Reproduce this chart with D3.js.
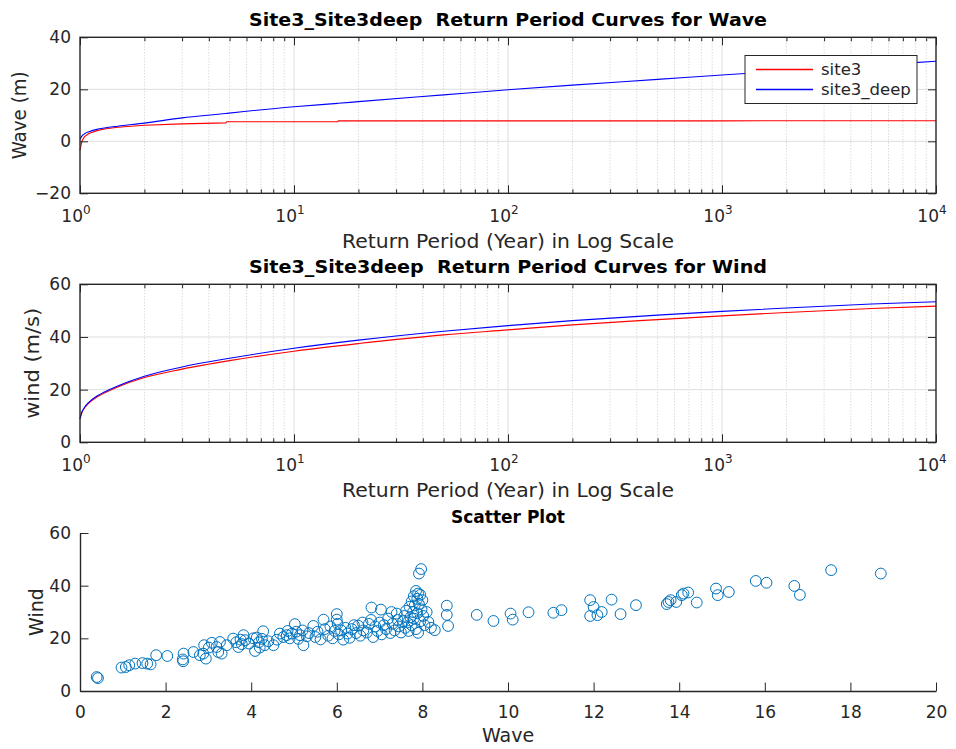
<!DOCTYPE html>
<html>
<head>
<meta charset="utf-8">
<script src="https://cdn.jsdelivr.net/npm/d3@7"></script>
<style>
  body { margin: 0; background: #fff; }
  svg { font-family: "DejaVu Sans", sans-serif; }
  .pre { white-space: pre; }
</style>
</head>
<body>
<svg id="chart" width="956" height="749"></svg>
<script>
// ---- data ----
const decadeTicks = [1, 10, 100, 1000, 10000];
const waveTicks = [-20, 0, 20, 40];
const windTicks = [0, 20, 40, 60];
const scatterXTicks = [0, 2, 4, 6, 8, 10, 12, 14, 16, 18, 20];
const scatterYTicks = [0, 20, 40, 60];
const seriesNames = ["site3", "site3_deep"];
const seriesColors = ["#ff0000", "#0000ff"];

// return periods (years) for the wave curves
const wavePeriods = [1, 1.02, 1.05, 1.1, 1.2, 1.3, 1.5, 2, 3, 4.8, 4.85, 10, 16, 16.1, 20, 50, 100, 200, 500, 1000, 2000, 5000, 10000];
const waveSite3 = [-3.5, 0.0, 1.8, 3.0, 4.1, 4.7, 5.4, 6.2, 6.7, 7.1, 7.5, 7.5, 7.5, 7.85, 7.85, 7.85, 7.85, 7.85, 7.85, 7.85, 7.9, 7.9, 7.9];
const waveSite3Deep = [0.8, 2.0, 2.9, 3.7, 4.6, 5.1, 5.8, 7.0, 9.0, 10.7, 10.74, 13.3, 14.6, 14.617, 15.25, 17.85, 19.8, 21.6, 23.8, 25.5, 27.1, 29.2, 30.8];

// return periods (years) for the wind curves
const windPeriods = [1, 1.02, 1.05, 1.1, 1.2, 1.3, 1.5, 2, 3, 5, 10, 20, 50, 100, 200, 500, 1000, 2000, 5000, 10000];
const windSite3 = [8.8, 11.2, 13.0, 14.9, 17.2, 18.7, 21.0, 24.6, 27.8, 31.0, 34.6, 37.5, 40.8, 42.7, 44.6, 46.6, 48.0, 49.3, 50.8, 51.7];
const windSite3Deep = [9.0, 11.5, 13.3, 15.2, 17.6, 19.1, 21.4, 25.1, 28.6, 31.9, 35.7, 38.8, 42.2, 44.3, 46.2, 48.3, 49.7, 51.0, 52.5, 53.4];

// paired wave / wind observations
const scatterWave = [
  0.39, 0.42, 0.97, 1.07, 1.15, 1.29, 1.46, 1.57, 1.65, 1.78, 2.04, 2.41, 2.40, 2.42, 2.65, 2.80, 2.90, 2.94, 2.88, 3.01,
  3.08, 3.19, 3.27, 3.31, 3.23, 3.43, 3.58, 3.70, 3.65, 3.75, 3.82, 3.86, 3.78, 3.95, 4.05, 4.09, 4.13, 4.18, 4.20, 4.28,
  4.32, 4.25, 4.40, 4.52, 4.60, 4.67, 4.75, 4.83, 4.85, 4.90, 4.95, 5.02, 5.05, 5.10, 5.14, 5.22, 5.20, 5.30, 5.35, 5.45,
  5.50, 5.55, 5.62, 5.69, 5.72, 5.80, 5.85, 5.90, 5.95, 6.00, 6.00, 6.02, 6.05, 6.10, 6.15, 6.20, 6.25, 6.30, 6.35, 6.40,
  6.45, 6.50, 6.55, 6.60, 6.62, 6.70, 6.75, 6.81, 6.80, 6.85, 6.90, 6.95, 7.03, 7.00, 7.05, 7.10, 7.15, 7.20, 7.25, 7.28,
  7.30, 7.35, 7.40, 7.42, 7.45, 7.50, 7.55, 7.58, 7.60, 7.62, 7.65, 7.68, 7.70, 7.72, 7.75, 7.75, 7.78, 7.80, 7.80, 7.82,
  7.85, 7.85, 7.88, 7.88, 7.90, 7.90, 7.92, 7.92, 7.95, 7.95, 7.97, 7.98, 8.00, 8.02, 8.05, 8.10, 8.14, 8.20, 8.29, 8.57,
  8.57, 8.60, 9.27, 9.66, 10.06, 10.11, 10.48, 11.06, 11.25, 11.92, 11.92, 12.00, 12.09, 12.19, 12.42, 12.63, 12.99, 13.71, 13.75, 13.80,
  13.93, 14.06, 14.21, 14.41, 14.10, 14.86, 14.90, 15.16, 15.79, 16.04, 16.69, 16.82, 17.55, 18.71
];
const scatterWind = [
  5.3, 4.9, 8.9, 9.1, 9.8, 10.4, 10.6, 10.4, 10.1, 13.6, 13.3, 11.3, 12.0, 14.2, 14.8, 13.6, 17.4, 12.3, 14.2, 16.5,
  18.3, 16.7, 18.6, 14.2, 14.8, 17.4, 19.9, 16.7, 18.5, 19.5, 21.2, 19.3, 17.8, 18.0, 20.0, 15.2, 20.3, 18.5, 16.5, 22.7,
  17.4, 19.8, 18.9, 17.4, 19.5, 21.8, 20.5, 21.2, 22.8, 20.0, 21.8, 25.4, 22.5, 19.8, 21.2, 17.4, 23.0, 20.8, 22.0, 24.7,
  20.5, 22.5, 19.6, 27.1, 23.5, 21.0, 24.5, 20.0, 22.8, 29.2, 27.1, 25.5, 21.5, 23.0, 19.5, 24.0, 21.8, 20.2, 23.5, 25.0,
  22.0, 24.8, 21.0, 26.0, 23.0, 22.2, 25.5, 31.7, 27.0, 20.5, 24.5, 22.8, 30.9, 26.0, 21.5, 25.0, 23.5, 27.5, 22.0, 30.0,
  25.5, 23.0, 29.4, 27.0, 24.5, 22.2, 26.5, 28.5, 24.0, 30.5, 26.0, 22.8, 32.0, 28.0, 34.0, 25.0, 30.0, 36.0, 27.5, 32.5,
  38.0, 23.5, 35.0, 29.5, 37.0, 22.1, 44.6, 33.0, 36.5, 26.5, 46.3, 31.0, 34.5, 28.5, 25.0, 30.0, 26.2, 24.0, 23.1, 32.4,
  28.9, 24.7, 28.9, 26.6, 29.4, 27.1, 29.9, 29.7, 30.7, 34.5, 28.5, 31.9, 28.8, 30.0, 34.7, 29.2, 32.6, 33.0, 33.8, 34.5,
  33.8, 36.4, 37.4, 33.6, 37.0, 38.9, 36.4, 37.6, 41.8, 41.1, 39.9, 36.5, 45.9, 44.6
];

// ---- layout ----
const svg = d3.select("#chart");
const left = 80, right = 936;
const axisColor = "#262626";
const fs = 17;

const panels = [
  { top: 37.3, bottom: 193.3 },
  { top: 284.3, bottom: 442.3 },
  { top: 533, bottom: 691 }
];

function superscriptLabel(g, x, y, exp) {
  const t = g.append("text")
    .attr("x", x - 4).attr("y", y)
    .attr("text-anchor", "middle")
    .attr("fill", axisColor)
    .attr("font-size", fs);
  t.append("tspan").text("10");
  t.append("tspan").attr("font-size", 12).attr("dy", -8).text(exp);
}

function logPanel(p, yDomain, yTicks, periods, red, blue, stepped, title, ylabel, ylabelX, ylabelLen, withLegend) {
  const x = d3.scaleLog().domain([1, 10000]).range([left, right]);
  const y = d3.scaleLinear().domain(yDomain).range([p.bottom, p.top]);
  const g = svg.append("g");

  // minor grid (dotted) for 2..9 within each decade
  const minor = [];
  for (let d = 1; d < 10000; d *= 10) for (let k = 2; k <= 9; k++) minor.push(d * k);
  g.append("g").selectAll("line").data(minor).join("line")
    .attr("x1", d => x(d)).attr("x2", d => x(d))
    .attr("y1", p.top).attr("y2", p.bottom)
    .attr("stroke", "#bdbdbd").attr("stroke-width", 0.8).attr("stroke-dasharray", "1,2");
  // major grid
  g.append("g").selectAll("line").data(decadeTicks.slice(1, -1)).join("line")
    .attr("x1", d => x(d)).attr("x2", d => x(d))
    .attr("y1", p.top).attr("y2", p.bottom)
    .attr("stroke", "#dedede").attr("stroke-width", 1);
  g.append("g").selectAll("line").data(yTicks.slice(1, -1)).join("line")
    .attr("x1", left).attr("x2", right)
    .attr("y1", d => y(d)).attr("y2", d => y(d))
    .attr("stroke", "#dedede").attr("stroke-width", 1);

  // curves
  const stepLine = d3.line().x(d => x(d[0])).y(d => y(d[1]));
  const smoothLine = d3.line().x(d => x(d[0])).y(d => y(d[1])).curve(d3.curveMonotoneX);
  g.append("path").datum(periods.map((t, i) => [t, red[i]]))
    .attr("d", stepped ? stepLine : smoothLine)
    .attr("fill", "none").style("stroke", seriesColors[0]).attr("stroke-width", 1.1);
  g.append("path").datum(periods.map((t, i) => [t, blue[i]]))
    .attr("d", smoothLine).attr("fill", "none").style("stroke", seriesColors[1]).attr("stroke-width", 1.1);

  // axes with inward ticks on all sides
  const axB = d3.axisBottom(x).tickValues(decadeTicks).tickFormat("").tickSizeInner(-8).tickSizeOuter(0);
  const axT = d3.axisTop(x).tickValues(decadeTicks).tickFormat("").tickSizeInner(-8).tickSizeOuter(0);
  const axL = d3.axisLeft(y).tickValues(yTicks).tickSizeInner(-8).tickSizeOuter(0).tickPadding(9);
  const axR = d3.axisRight(y).tickValues(yTicks).tickFormat("").tickSizeInner(-8).tickSizeOuter(0);
  const minB = d3.axisBottom(x).tickValues(minor).tickFormat("").tickSizeInner(-4).tickSizeOuter(0);
  const minT = d3.axisTop(x).tickValues(minor).tickFormat("").tickSizeInner(-4).tickSizeOuter(0);
  [
    [axB, p.bottom, 0], [minB, p.bottom, 0], [axT, p.top, 0], [minT, p.top, 0],
    [axL, 0, left], [axR, 0, right]
  ].forEach(([ax, ty, tx]) => {
    const a = g.append("g").attr("transform", `translate(${tx},${ty})`).call(ax);
    a.select(".domain").remove();
    a.selectAll(".tick line").attr("stroke", axisColor).attr("stroke-width", 1);
    a.selectAll("text").attr("font-size", fs).attr("fill", axisColor).attr("font-family", "DejaVu Sans");
  });
  g.append("rect").attr("x", left).attr("y", p.top)
    .attr("width", right - left).attr("height", p.bottom - p.top)
    .attr("fill", "none").attr("stroke", axisColor).attr("stroke-width", 1.4);

  // decade labels
  decadeTicks.forEach((t, i) => superscriptLabel(g, x(t), p.bottom + 29, String(i)));

  g.append("text").attr("x", (left + right) / 2).attr("y", p.bottom + 55)
    .attr("text-anchor", "middle").attr("font-size", 19).attr("fill", axisColor)
    .attr("textLength", 332).attr("lengthAdjust", "spacingAndGlyphs")
    .text("Return Period (Year) in Log Scale");
  g.append("text").attr("class", "pre").attr("x", (left + right) / 2).attr("y", p.top - 11)
    .attr("text-anchor", "middle").attr("font-size", 18).attr("font-weight", "bold").attr("fill", "#000")
    .attr("textLength", 518).attr("lengthAdjust", "spacingAndGlyphs")
    .text(title);
  g.append("text")
    .attr("transform", `translate(${ylabelX},${(p.top + p.bottom) / 2}) rotate(-90)`)
    .attr("text-anchor", "middle").attr("font-size", 19).attr("fill", axisColor)
    .attr("textLength", ylabelLen).attr("lengthAdjust", "spacingAndGlyphs")
    .text(ylabel);

  if (withLegend) {
    const lg = g.append("g");
    lg.append("rect").attr("x", 745).attr("y", 55.5).attr("width", 172).attr("height", 48)
      .attr("fill", "#fff").attr("stroke", axisColor).attr("stroke-width", 1);
    seriesNames.forEach((n, i) => {
      const yy = 69.5 + i * 20;
      lg.append("path").attr("d", `M756,${yy}H813`)
        .style("stroke", seriesColors[i]).style("stroke-width", "1.3px").style("fill", "none");
      lg.append("text").attr("x", 821).attr("y", yy + 5.5).attr("font-size", 16.5).attr("fill", axisColor).text(n);
    });
  }
}

logPanel(panels[0], [-20, 40], waveTicks, wavePeriods, waveSite3, waveSite3Deep, true,
  "Site3_Site3deep  Return Period Curves for Wave", "Wave (m)", 26, 88, true);
logPanel(panels[1], [0, 60], windTicks, windPeriods, windSite3, windSite3Deep, false,
  "Site3_Site3deep  Return Period Curves for Wind", "wind (m/s)", 39, 111, false);

// ---- scatter panel ----
(function () {
  const p = panels[2];
  const x = d3.scaleLinear().domain([0, 20]).range([left, right]);
  const y = d3.scaleLinear().domain([0, 60]).range([p.bottom, p.top]);
  const g = svg.append("g");

  g.append("g").selectAll("circle").data(scatterWave.map((w, i) => [w, scatterWind[i]])).join("circle")
    .attr("cx", d => x(d[0])).attr("cy", d => y(d[1])).attr("r", 5.4)
    .attr("fill", "none").attr("stroke", "#0072BD").attr("stroke-width", 1);

  const ax = d3.axisBottom(x).tickValues(scatterXTicks).tickSizeInner(-8.5).tickSizeOuter(0).tickPadding(15);
  const ay = d3.axisLeft(y).tickValues(scatterYTicks).tickSizeInner(-8.5).tickSizeOuter(0).tickPadding(9);
  [[ax, `translate(0,${p.bottom})`], [ay, `translate(${left},0)`]].forEach(([a, tr]) => {
    const s = g.append("g").attr("transform", tr).call(a);
    s.select(".domain").attr("stroke", axisColor).attr("stroke-width", 1.4);
    s.selectAll(".tick line").attr("stroke", axisColor).attr("stroke-width", 1);
    s.selectAll("text").attr("font-size", fs).attr("fill", axisColor).attr("font-family", "DejaVu Sans");
  });

  g.append("text").attr("x", (left + right) / 2).attr("y", p.top - 10)
    .attr("text-anchor", "middle").attr("font-size", 17).attr("font-weight", "bold").attr("fill", "#000")
    .text("Scatter Plot");
  g.append("text").attr("x", (left + right) / 2).attr("y", p.bottom + 51)
    .attr("text-anchor", "middle").attr("font-size", 19).attr("fill", axisColor).text("Wave");
  g.append("text")
    .attr("transform", `translate(43,${(p.top + p.bottom) / 2}) rotate(-90)`)
    .attr("text-anchor", "middle").attr("font-size", 19).attr("fill", axisColor).text("Wind");
})();
</script>
</body>
</html>
